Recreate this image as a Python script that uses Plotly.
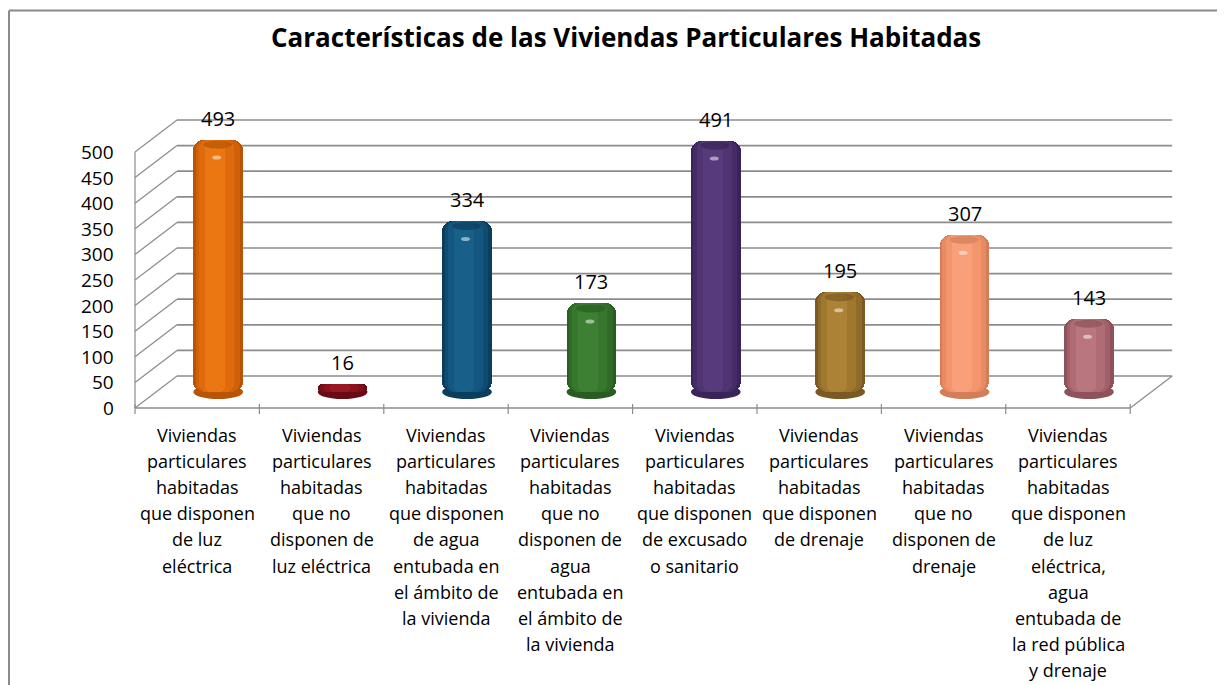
import plotly.graph_objects as go

# ---------------- data ----------------
category_lines = [
    ["Viviendas", "particulares", "habitadas", "que disponen", "de luz", "eléctrica"],
    ["Viviendas", "particulares", "habitadas", "que no", "disponen de", "luz eléctrica"],
    ["Viviendas", "particulares", "habitadas", "que disponen", "de agua", "entubada en",
     "el ámbito de", "la vivienda"],
    ["Viviendas", "particulares", "habitadas", "que no", "disponen de", "agua",
     "entubada en", "el ámbito de", "la vivienda"],
    ["Viviendas", "particulares", "habitadas", "que disponen", "de excusado", "o sanitario"],
    ["Viviendas", "particulares", "habitadas", "que disponen", "de drenaje"],
    ["Viviendas", "particulares", "habitadas", "que no", "disponen de", "drenaje"],
    ["Viviendas", "particulares", "habitadas", "que disponen", "de luz", "eléctrica,",
     "agua", "entubada de", "la red pública", "y drenaje"],
]
values = [493, 16, 334, 173, 491, 195, 307, 143]
y_ticks = [0, 50, 100, 150, 200, 250, 300, 350, 400, 450, 500]
title = "Características de las Viviendas Particulares Habitadas"

# bar colours: edge -> centre
colors_dark = ["#B75406", "#6A0A12", "#0B3E5D", "#295C20", "#3A2457", "#7B5922", "#D37E59", "#8D525A"]
colors_mid = ["#D0600A", "#7E0F18", "#104B70", "#306B28", "#452C66", "#906A29", "#E88B64", "#A2616A"]
colors_body = ["#E06B0C", "#8C131D", "#14567F", "#37762D", "#4F3372", "#A0772F", "#F3966E", "#B06C75"]
colors_light = ["#EA7711", "#981923", "#186089", "#3D7F33", "#573A7C", "#AB8236", "#F9A07A", "#BA767F"]

# ---------------- geometry (pixels -> axis units) ----------------
W, H = 1225, 685
PAGE_OFF = 8.0                    # browser body margin
FRONT_LEFT_PX = 135.0 - PAGE_OFF
CAT_PX = 124.4
ZERO_PX = 408.0 - PAGE_OFF
PX_PER_UNIT = 0.512
DEPTH_DX = 42.0 / CAT_PX          # x-units
DEPTH_DY = 32.0 / PX_PER_UNIT     # y-units
n = len(values)

x_range = [-0.5 - FRONT_LEFT_PX / CAT_PX, -0.5 + (W - FRONT_LEFT_PX) / CAT_PX]
y_range = [-(H - ZERO_PX) / PX_PER_UNIT, ZERO_PX / PX_PER_UNIT]

grid_col = "#8C8C8C"
FONT = "'Open Sans', Lato, sans-serif"

fig = go.Figure()

shapes = []
x_front_l, x_front_r = -0.5, n - 0.5
for t in y_ticks:
    shapes.append(dict(type="line", xref="x", yref="y", layer="below",
                       x0=x_front_l + DEPTH_DX, x1=x_front_r + DEPTH_DX,
                       y0=t + DEPTH_DY, y1=t + DEPTH_DY,
                       line=dict(color=grid_col, width=1.7)))
    shapes.append(dict(type="line", xref="x", yref="y", layer="below",
                       x0=x_front_l, x1=x_front_l + DEPTH_DX,
                       y0=t, y1=t + DEPTH_DY,
                       line=dict(color=grid_col, width=1.2)))
shapes.append(dict(type="line", xref="x", yref="y", layer="below",
                   x0=x_front_l, x1=x_front_l, y0=0, y1=max(y_ticks),
                   line=dict(color=grid_col, width=1.2)))
shapes.append(dict(type="line", xref="x", yref="y", layer="below",
                   x0=x_front_l, x1=x_front_r, y0=0, y1=0,
                   line=dict(color=grid_col, width=1.7)))
shapes.append(dict(type="line", xref="x", yref="y", layer="below",
                   x0=x_front_r, x1=x_front_r + DEPTH_DX, y0=0, y1=DEPTH_DY,
                   line=dict(color=grid_col, width=1.2)))
for k in range(n + 1):
    xb = k - 0.5
    shapes.append(dict(type="line", xref="x", yref="y", layer="below",
                       x0=xb, x1=xb, y0=4 / PX_PER_UNIT, y1=-6 / PX_PER_UNIT,
                       line=dict(color=grid_col, width=1.2)))

# ---------------- cylinders ----------------
bar_x = [i + DEPTH_DX / 2 for i in range(n)]
bar_base = DEPTH_DY / 2
BW = 0.40
cap_h = 7 / PX_PER_UNIT

for i, v in enumerate(values):
    shapes.append(dict(type="circle", xref="x", yref="y", layer="below",
                       x0=bar_x[i] - BW / 2, x1=bar_x[i] + BW / 2,
                       y0=bar_base - cap_h, y1=bar_base + cap_h,
                       fillcolor=colors_dark[i], line=dict(width=0)))

layers = [
    (colors_dark, 1.00, 0.0, 10),
    (colors_mid, 0.88, -0.01, 9),
    (colors_body, 0.70, -0.03, 8),
    (colors_light, 0.40, -0.06, 6),
]
for cols, wf, off, rad in layers:
    fig.add_trace(go.Bar(x=[xx + BW * off for xx in bar_x], y=values, base=[bar_base] * n,
                         width=BW * wf,
                         marker=dict(color=cols, line=dict(width=0), cornerradius=rad),
                         hoverinfo="skip", showlegend=False))

for i, v in enumerate(values):
    top = bar_base + v
    if v > 30:
        shapes.append(dict(type="circle", xref="x", yref="y", layer="above",
                           x0=bar_x[i] - BW * 0.30, x1=bar_x[i] + BW * 0.28,
                           y0=top - 9 / PX_PER_UNIT, y1=top - 1 / PX_PER_UNIT,
                           fillcolor=colors_dark[i], opacity=0.7, line=dict(width=0)))
        shapes.append(dict(type="circle", xref="x", yref="y", layer="above",
                           x0=bar_x[i] - BW * 0.12, x1=bar_x[i] + BW * 0.06,
                           y0=top - 20 / PX_PER_UNIT, y1=top - 16 / PX_PER_UNIT,
                           fillcolor="rgba(255,255,255,0.5)", line=dict(width=0)))

# chart border
shapes.append(dict(type="line", xref="paper", yref="paper",
                   x0=1 / W, x1=1 / W, y0=0, y1=1 - 2.5 / H,
                   line=dict(color="#8A8A8A", width=2)))
shapes.append(dict(type="line", xref="paper", yref="paper",
                   x0=1 / W, x1=1, y0=1 - 2.5 / H, y1=1 - 2.5 / H,
                   line=dict(color="#8A8A8A", width=2)))

annotations = []
for i, v in enumerate(values):
    annotations.append(dict(x=bar_x[i], y=bar_base + v, xref="x", yref="y",
                            text=str(v), showarrow=False, yanchor="bottom",
                            yshift=6, font=dict(family=FONT, size=20, color="#000000")))
for t in y_ticks:
    annotations.append(dict(x=x_front_l, y=t, xref="x", yref="y", text=str(t),
                            showarrow=False, xanchor="right", yanchor="middle",
                            xshift=-19, font=dict(family=FONT, size=19, color="#000000")))
for i, lines in enumerate(category_lines):
    for k, line in enumerate(lines):
        annotations.append(dict(x=i, y=0, xref="x", yref="y", text=line,
                                showarrow=False, xanchor="center", yanchor="middle",
                                yshift=-(27 + k * 26.1),
                                font=dict(family=FONT, size=18, color="#000000")))
annotations.append(dict(x=(625.5 - PAGE_OFF) / W, y=1 - (37 - PAGE_OFF) / H,
                        xref="paper", yref="paper", text="<b>" + title + "</b>",
                        showarrow=False, xanchor="center", yanchor="middle",
                        font=dict(family=FONT, size=26, color="#000000")))

fig.update_layout(
    width=W, height=H,
    margin=dict(l=0, r=0, t=0, b=0),
    paper_bgcolor="white", plot_bgcolor="white",
    barmode="overlay", bargap=0,
    xaxis=dict(range=x_range, visible=False, fixedrange=True),
    yaxis=dict(range=y_range, visible=False, fixedrange=True),
    shapes=shapes, annotations=annotations,
    showlegend=False,
)

fig.write_html("out.html")
